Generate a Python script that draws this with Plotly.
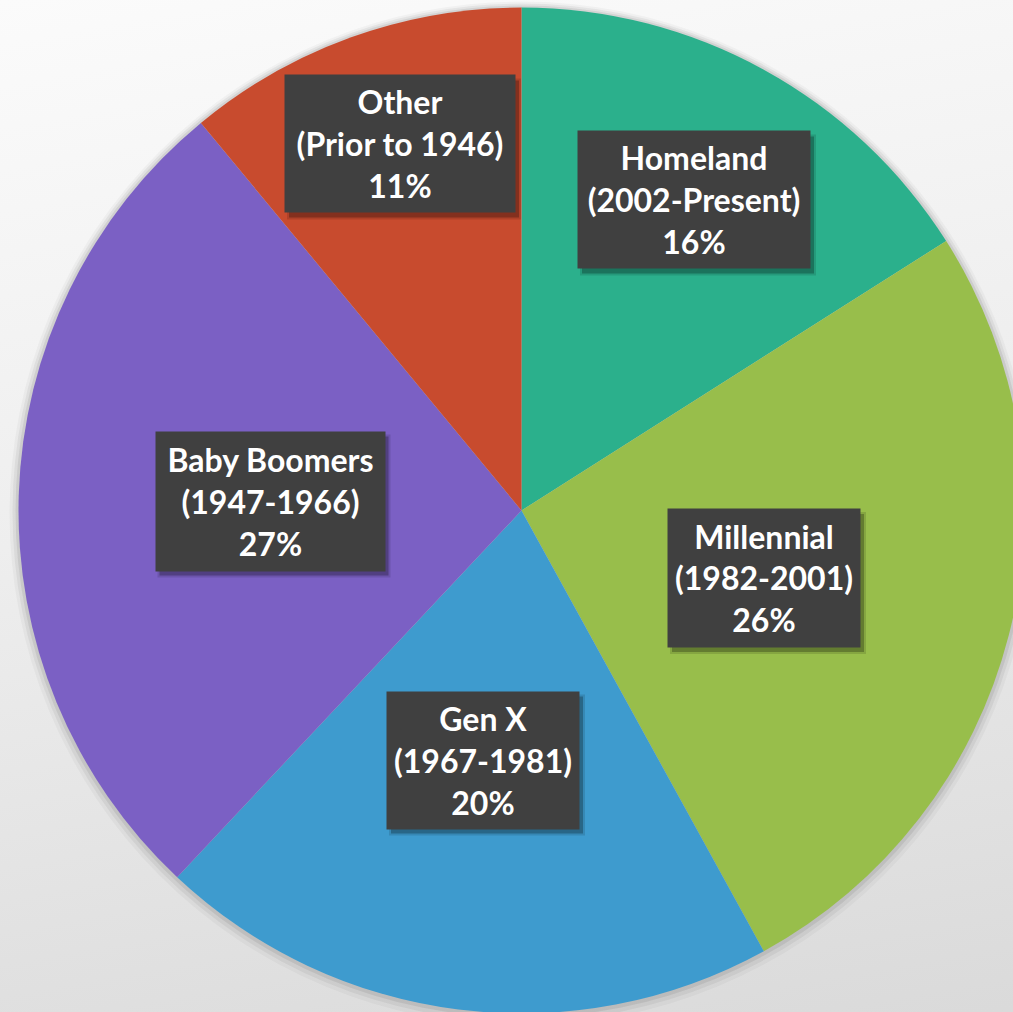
import plotly.graph_objects as go

# ---- data ----
generations = ["Homeland", "Millennial", "Gen X", "Baby Boomers", "Other"]
year_ranges = ["(2002-Present)", "(1982-2001)", "(1967-1981)", "(1947-1966)", "(Prior to 1946)"]
shares = [16, 26, 20, 27, 11]

# ---- styles / layout ----
colors = ["#2BB08C", "#98BE4B", "#3E9BCE", "#7B60C4", "#C84B2E"]
label_px = [(694, 200), (764, 578), (483, 760), (270, 501), (400, 144)]  # label centres in pixels
box_px = [(232, 137), (192, 138), (192, 137), (229, 139), (230, 137)]    # label box sizes in pixels

W, H = 1045, 1040
cx, cy, R = 521.5, 510.5, 503

def dom(cx, cy, r):
    return dict(x=[max(0, (cx - r) / W), min(1, (cx + r) / W)],
                y=[max(0, (H - (cy + r)) / H), min(1, (H - (cy - r)) / H)])

fig = go.Figure()

# soft shadow beneath the pie
for dr, dy, a in [(9, 3, 0.03), (6, 2, 0.05), (3, 1, 0.07)]:
    fig.add_trace(go.Pie(values=[1], labels=["s"], marker=dict(colors=[f"rgba(0,0,0,{a})"], line=dict(width=0)),
                         domain=dom(cx, cy + dy, R + dr), sort=False, textinfo="none",
                         hoverinfo="skip", showlegend=False))

fig.add_trace(go.Pie(
    labels=generations, values=shares, sort=False, direction="clockwise", rotation=0,
    marker=dict(colors=colors, line=dict(width=0)),
    textinfo="none", showlegend=False, domain=dom(cx, cy, R),
))

fontfam = "Lato, 'Open Sans', sans-serif"
FS = 32
for g, yr, s, (px, py), (bw, bh) in zip(generations, year_ranges, shares, label_px, box_px):
    txt = f"<b>{g}</b><br><b>{yr}</b><br><b>{s}%</b>"
    # box shadow (soft, offset to lower right)
    for grow, a in [(2, 0.12), (0, 0.25)]:
        fig.add_shape(type="rect", xref="paper", yref="paper", layer="above",
                      x0=(px - bw / 2 + 4 - grow) / W, x1=(px + bw / 2 + 4 + grow) / W,
                      y0=1 - (py + bh / 2 + 5 + grow) / H, y1=1 - (py - bh / 2 + 5 - grow) / H,
                      fillcolor=f"rgba(0,0,0,{a})", line=dict(width=0))
    fig.add_annotation(x=px / W, y=1 - py / H, xref="paper", yref="paper",
                       xanchor="center", yanchor="middle", width=bw, height=bh, valign="middle",
                       text=txt, showarrow=False, align="center",
                       font=dict(family=fontfam, size=FS, color="white"),
                       bgcolor="#404040", borderpad=0)

fig.update_layout(width=W, height=H, margin=dict(l=0, r=0, t=0, b=0),
                  paper_bgcolor="rgba(0,0,0,0)", plot_bgcolor="rgba(0,0,0,0)")

post = """
document.documentElement.style.margin='0';
document.body.style.margin='0';
document.body.style.overflow='hidden';
document.documentElement.style.overflow='hidden';
document.body.style.background='linear-gradient(170deg, #fbfbfb 0%, #eeeeee 45%, #d9d9d9 100%)';
document.body.style.minHeight='100vh';
"""
fig.write_html("out.html", post_script=post, config={"displayModeBar": False})
